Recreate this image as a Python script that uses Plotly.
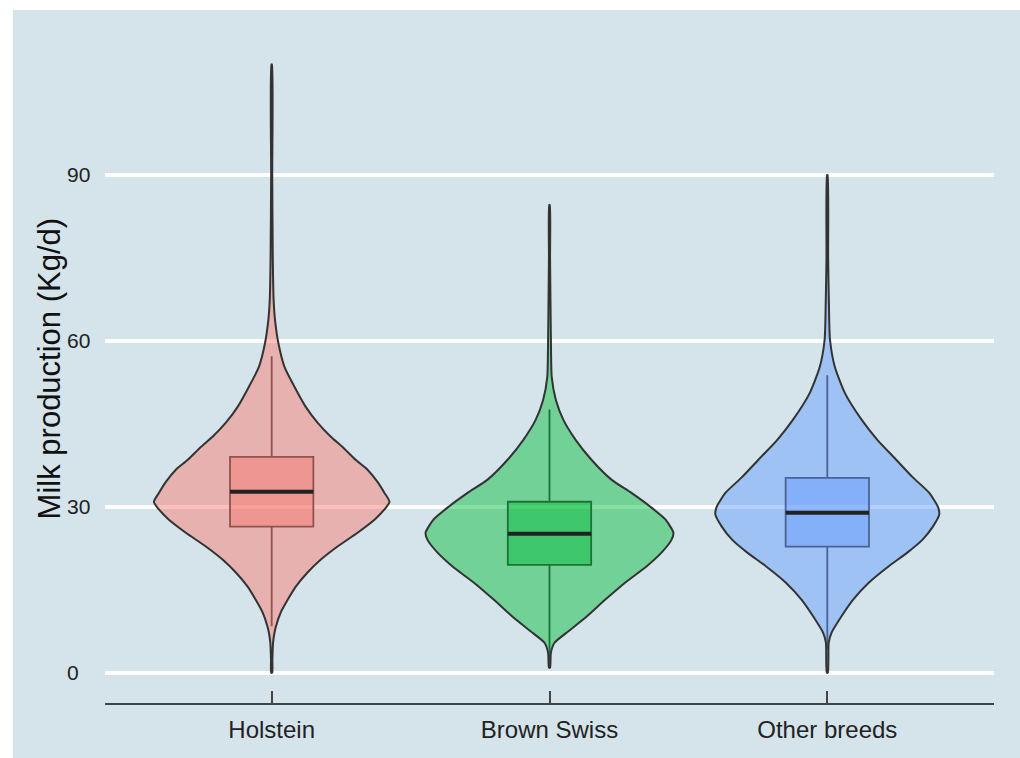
import plotly.graph_objects as go

# ---------------- data ----------------
breeds = ["Holstein", "Brown Swiss", "Other breeds"]
positions = [1, 2, 3]

# violin profiles: milk values (kg/d) and half-widths (x-axis units)
holstein_y = [0, 2.3, 5.4, 7.2, 8.3, 10.8, 13.2, 15.5, 18.1, 20.4, 22.8, 25.3, 27.7, 29.5,
              30.9, 32.5, 34.5, 36.7, 38.5, 40.8, 42.7, 45.2, 48.1, 51.7, 55.3, 59.6,
              63.8, 67.4, 75, 90, 110]
holstein_w = [0.002, 0.0025, 0.005, 0.010, 0.015, 0.032, 0.058, 0.086, 0.129, 0.176, 0.237,
              0.309, 0.371, 0.406, 0.424, 0.406, 0.381, 0.345, 0.302, 0.255, 0.212, 0.165,
              0.122, 0.082, 0.046, 0.024, 0.012, 0.007, 0.004, 0.002, 0.001]

brown_y = [0.9, 3.6, 5.4, 7.2, 10.1, 13.2, 16.3, 19.2, 21.7, 24.0, 25.3, 27.7, 30.0, 32.5,
           34.9, 38.5, 42.1, 45.7, 49.3, 53.5, 58.4, 67.4, 75, 84.6]
brown_w = [0.002, 0.005, 0.018, 0.061, 0.133, 0.201, 0.273, 0.349, 0.403, 0.439, 0.446,
           0.417, 0.363, 0.295, 0.223, 0.151, 0.094, 0.050, 0.023, 0.008, 0.0055, 0.0035,
           0.002, 0.001]

other_y = [0, 5.4, 7.2, 10.1, 13.2, 16.3, 19.2, 21.7, 24.0, 26.4, 28.6, 30.0, 32.5, 35.4,
           38.5, 42.1, 45.7, 50.6, 55.3, 60.2, 67.4, 75, 90]
other_w = [0.002, 0.005, 0.015, 0.050, 0.093, 0.150, 0.220, 0.288, 0.342, 0.380, 0.403,
           0.398, 0.367, 0.306, 0.248, 0.180, 0.124, 0.063, 0.027, 0.0097, 0.0055, 0.003,
           0.001]

# box-plot statistics
q1 = [26.4, 19.5, 22.8]
median = [32.7, 25.1, 28.9]
q3 = [39.0, 30.9, 35.2]
lower_whisker = [8.4, 2.4, 4.2]
upper_whisker = [57.2, 47.6, 53.8]

y_ticks = [0, 30, 60, 90]

# ---------------- style ----------------
bg = "#D5E4EB"
rgb = [(248, 118, 109), (0, 186, 56), (97, 156, 255)]
violin_alpha = 0.47
box_alpha = 0.45
outline = "#333333"
box_width = 0.3
font_family = "Liberation Sans, Arial, sans-serif"

profiles = [(holstein_y, holstein_w), (brown_y, brown_w), (other_y, other_w)]

fig = go.Figure()

for i, (ys, ws) in enumerate(profiles):
    c = positions[i]
    r, g, b = rgb[i]
    xs = [c - w for w in ws] + [c + w for w in reversed(ws)]
    yy = list(ys) + list(reversed(ys))
    xs.append(xs[0]); yy.append(yy[0])
    fig.add_trace(go.Scatter(
        x=xs, y=yy, mode="lines", fill="toself",
        fillcolor=f"rgba({r},{g},{b},{violin_alpha})",
        line=dict(color=outline, width=2, shape="spline", smoothing=0.6),
        hoverinfo="skip", showlegend=False))

for i in range(3):
    r, g, b = rgb[i]
    fig.add_trace(go.Box(
        x=[positions[i]], q1=[q1[i]], median=[median[i]], q3=[q3[i]],
        lowerfence=[lower_whisker[i]], upperfence=[upper_whisker[i]],
        width=box_width, whiskerwidth=0, boxpoints=False,
        fillcolor=f"rgba({r},{g},{b},{box_alpha})",
        line=dict(color=outline, width=1.8),
        hoverinfo="skip", showlegend=False))
    fig.add_trace(go.Scatter(
        x=[positions[i] - box_width / 2, positions[i] + box_width / 2],
        y=[median[i], median[i]], mode="lines",
        line=dict(color="#222222", width=4),
        hoverinfo="skip", showlegend=False))

# y tick labels (left aligned, as in the reference)
for t in y_ticks:
    fig.add_annotation(x=-0.045, xref="paper", y=t, yref="y", text=str(t),
                       showarrow=False, xanchor="left", yanchor="middle",
                       font=dict(family=font_family, size=21, color="#222222"))

fig.add_annotation(x=-0.062, xref="paper", y=0.5, yref="paper",
                   text="Milk production (Kg/d)", textangle=-90, showarrow=False,
                   xanchor="center", yanchor="middle",
                   font=dict(family=font_family, size=31, color="#111111"))

fig.add_shape(type="rect", xref="paper", yref="paper",
              x0=-0.1035, x1=1.03, y0=-0.09, y1=1.0359,
              fillcolor=bg, line=dict(width=0), layer="below")

fig.update_layout(
    width=1020, height=758,
    margin=dict(l=105, r=26, t=34, b=55),
    paper_bgcolor="white", plot_bgcolor=bg,
    font=dict(family=font_family, color="#222222"),
    xaxis=dict(range=[0.4, 3.6], tickvals=positions, ticktext=breeds,
               showgrid=False, zeroline=False, showline=True,
               linecolor="#444444", linewidth=2.2,
               ticks="inside", ticklen=12, tickwidth=1.6, tickcolor="#444444",
               tickfont=dict(size=24, color="#222222"), ticklabelstandoff=4),
    yaxis=dict(range=[-5.5, 115.5], tickvals=y_ticks, showticklabels=False,
               showgrid=True, gridcolor="white", gridwidth=3.5,
               zeroline=False, showline=False, ticks=""),
)

fig.write_html("out.html", config={"displayModeBar": False},
               post_script="document.body.style.margin='0';document.body.style.overflow='hidden';")
